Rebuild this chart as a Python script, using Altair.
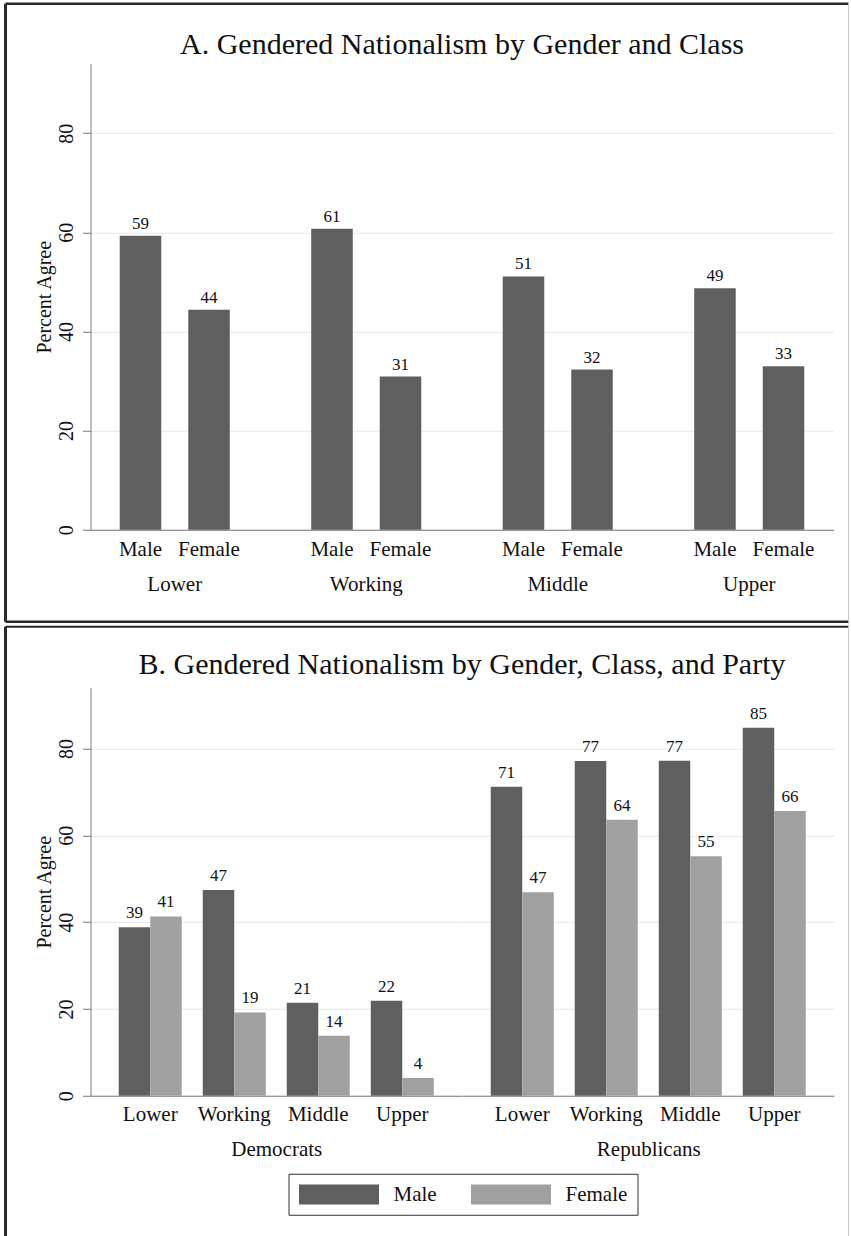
import altair as alt
import pandas as pd

FONT = "Liberation Serif"
INK = "#111111"
AXIS_GREY = "#7a7a7a"
GRID = "#e6e6e6"
MALE_C = "#5f5f5f"
FEMALE_C = "#a0a0a0"

classes = ["Lower", "Working", "Middle", "Upper"]
genders = ["Male", "Female"]
parties = ["Democrats", "Republicans"]

# Panel A: percent agree by class, male / female
a_male = [59.3, 60.7, 51.1, 48.7]
a_female = [44.4, 30.9, 32.3, 33.0]

# Panel B: percent agree by party, class, male / female
dem_male = [38.8, 47.4, 21.4, 21.9]
dem_female = [41.3, 19.2, 13.8, 4.1]
rep_male = [71.2, 77.1, 77.2, 84.8]
rep_female = [46.9, 63.6, 55.2, 65.6]

y_ticks = [0, 20, 40, 60, 80]
y_max = 94

title_a = "A. Gendered Nationalism by Gender and Class"
title_b = "B. Gendered Nationalism by Gender, Class, and Party"
y_title = "Percent Agree"


def long_df(male, female):
    rows = []
    for c, m, f in zip(classes, male, female):
        rows.append({"cls": c, "gender": "Male", "value": m})
        rows.append({"cls": c, "gender": "Female", "value": f})
    return pd.DataFrame(rows)


dfA = long_df(a_male, a_female)
dfD = long_df(dem_male, dem_female)
dfR = long_df(rep_male, rep_female)
one = pd.DataFrame({"k": [0]})

W = 743
HA = 466
HB = 408
WB = W / 2

y_scale = alt.Scale(domain=[0, y_max], nice=False, zero=True)


def y_axis_full(h):
    return alt.Axis(
        values=y_ticks, title=y_title, labelAngle=270, labelAlign="center",
        labelBaseline="alphabetic", labelPadding=10, labelFontSize=20,
        labelColor=INK, tickSize=8, tickColor=AXIS_GREY, domainColor=AXIS_GREY,
        gridColor=GRID, grid=True, titleFontSize=20, titleFontWeight="normal",
        titleColor=INK, titleAngle=270, titleX=-40, titleY=h / 2,
        titleAlign="center", titleBaseline="alphabetic",
    )


def rule(x, x2, y, y2, color, w):
    return alt.Chart(one).mark_rule(color=color, strokeWidth=w).encode(
        x=alt.value(x), x2=alt.value(x2), y=alt.value(y), y2=alt.value(y2)
    )


def text_title(txt, x, y):
    return alt.Chart(one).mark_text(
        fontSize=30, align="center", baseline="alphabetic", color=INK
    ).encode(x=alt.value(x), y=alt.value(y), text=alt.value(txt))


# ---------------- Panel A ----------------
baseA = alt.Chart(dfA).encode(
    x=alt.X(
        "cls:N", sort=classes,
        scale=alt.Scale(domain=classes, paddingInner=0.3, paddingOuter=0.09),
        axis=alt.Axis(
            title=None, labelAngle=0, labelFontSize=21, labelColor=INK,
            labelPadding=61, labelBaseline="alphabetic", ticks=False, tickSize=0,
            domainColor=AXIS_GREY, grid=False,
        ),
    ),
    xOffset=alt.XOffset(
        "gender:N", sort=genders,
        scale=alt.Scale(domain=genders, paddingInner=0.394, paddingOuter=0.175),
    ),
)
barsA = baseA.mark_bar(color=MALE_C).encode(
    y=alt.Y("value:Q", scale=y_scale, axis=y_axis_full(HA))
)
valsA = baseA.mark_text(fontSize=17, baseline="alphabetic", dy=-7, color=INK).encode(
    y=alt.Y("value:Q"), text=alt.Text("value:Q", format=".0f")
)
gendA = baseA.mark_text(fontSize=21, baseline="alphabetic", dy=26, color=INK).encode(
    y=alt.datum(0), text="gender:N"
)
frameA = [
    rule(-85, -85, -60, 558, "#2a2a2a", 3),
    rule(-85, 758, -60, -60, "#2a2a2a", 2.5),
    rule(-85, 758, 558, 558, "#2a2a2a", 2.5),
    rule(758, 758, -60, 558, "#c8c8c8", 1),
]
panelA = alt.layer(
    barsA, valsA, gendA, text_title(title_a, W / 2, -10), *frameA
).properties(width=W, height=HA)


# ---------------- Panel B ----------------
def party_chart(df, party, first):
    color = alt.Color(
        "gender:N",
        scale=alt.Scale(domain=genders, range=[MALE_C, FEMALE_C]),
        legend=alt.Legend(
            orient="none", legendX=198, legendY=486, direction="horizontal",
            columns=2, title=None, symbolType="M-1,-1H7V1H-1Z",
            symbolSize=400, symbolStrokeWidth=0, symbolOpacity=1,
            labelFontSize=21, labelColor=INK, labelOffset=74, columnPadding=33,
            padding=10, strokeColor="#333333", fillColor="white",
        ) if first else None,
    )
    if first:
        yax = y_axis_full(HB)
    else:
        yax = alt.Axis(values=y_ticks, labels=False, ticks=False, domain=False,
                       title=None, grid=True, gridColor=GRID)
    base = alt.Chart(df).encode(
        x=alt.X(
            "cls:N", sort=classes,
            scale=alt.Scale(domain=classes, paddingInner=0.25, paddingOuter=0.336),
            axis=alt.Axis(
                title=party, labelAngle=0, labelFontSize=21, labelColor=INK,
                labelPadding=25, labelBaseline="alphabetic", ticks=False,
                tickSize=0, domainColor=AXIS_GREY, grid=False,
                titleFontSize=21, titleFontWeight="normal", titleColor=INK,
                titleY=60, titleBaseline="alphabetic",
            ),
        ),
        xOffset=alt.XOffset(
            "gender:N", sort=genders,
            scale=alt.Scale(domain=genders, paddingInner=0, paddingOuter=0),
        ),
    )
    bars = base.mark_bar().encode(
        y=alt.Y("value:Q", scale=y_scale, axis=yax), color=color
    )
    vals = base.mark_text(fontSize=17, baseline="alphabetic", dy=-9, color=INK).encode(
        y=alt.Y("value:Q"), text=alt.Text("value:Q", format=".0f")
    )
    layers = [bars, vals]
    if first:
        layers += [
            text_title(title_b, W / 2, -14),
            rule(-85, -85, -61, 549, "#2a2a2a", 3),
            rule(-85, 758, -61, -61, "#2a2a2a", 2),
            rule(758, 758, -61, 549, "#c8c8c8", 1),
        ]
    return alt.layer(*layers).properties(width=WB, height=HB)


panelB = alt.hconcat(
    party_chart(dfD, parties[0], True),
    party_chart(dfR, parties[1], False),
    spacing=0, bounds="flush",
).resolve_scale(color="independent", xOffset="independent")

chart = alt.vconcat(panelA, panelB, spacing=1).resolve_scale(
    xOffset="independent", color="independent"
).properties(
    padding={"left": 3.5, "top": 1.75, "right": 0, "bottom": 0}
).configure(font=FONT).configure_view(stroke="transparent")

chart.save("out.html", embed_options={"renderer": "svg", "actions": False})
